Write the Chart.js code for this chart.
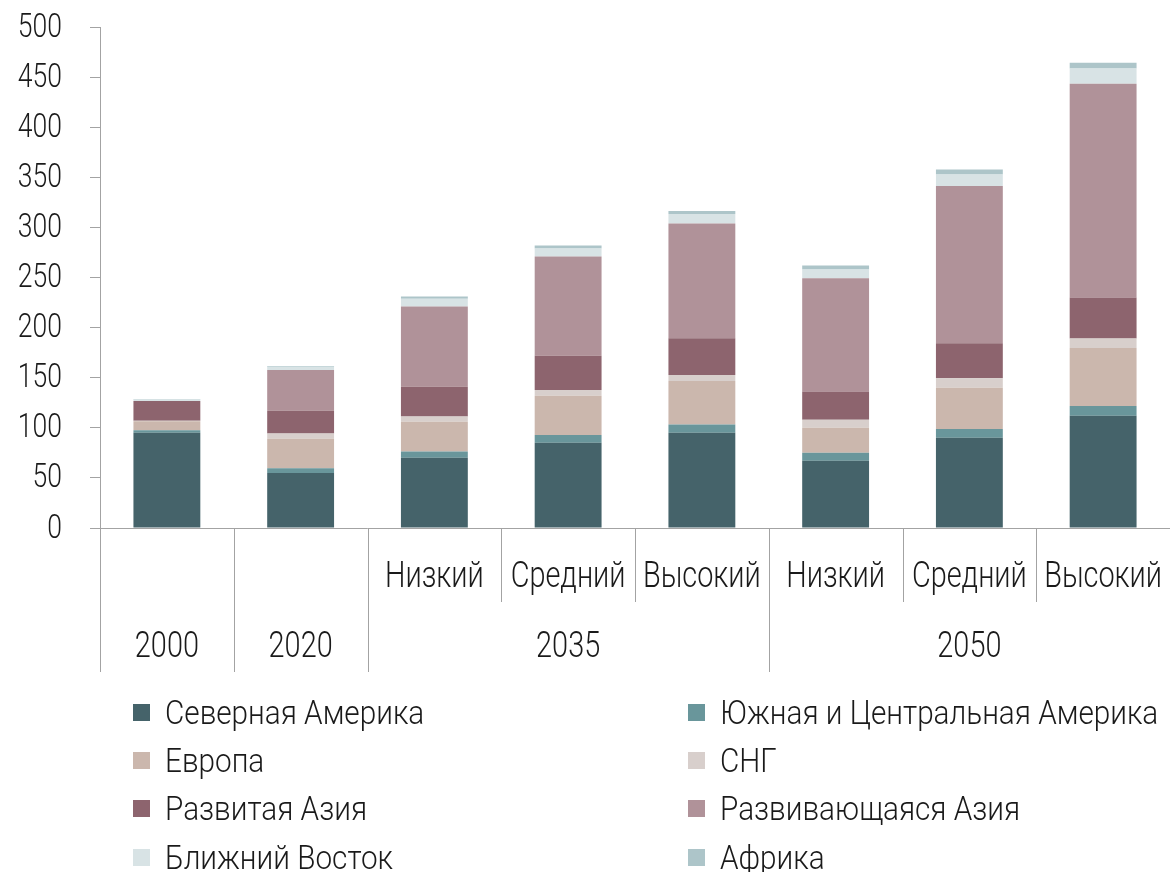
<!DOCTYPE html>
<html>
<head>
<meta charset="utf-8">
<script src="https://cdn.jsdelivr.net/npm/chart.js@4"></script>
<style>
  html, body { margin: 0; padding: 0; background: #fff; }
  #wrap { position: relative; width: 1170px; height: 872px; }
  #chart { position: absolute; left: 0; top: 0; }
  .legend { position: absolute; left: 0; top: 0; width: 1170px; height: 872px; pointer-events: none;
    font-family: Roboto, sans-serif; font-weight: 300; font-size: 33px; color: #1a1a1a; }
  .legend-item { position: absolute; display: flex; align-items: center; white-space: nowrap; height: 40px; }
  .legend-swatch { width: 17px; height: 17px; margin-right: 15px; flex: none; }
  .legend-text { display: inline-block; transform: scaleX(0.9); transform-origin: left center; }
</style>
</head>
<body>
<div id="wrap">
  <canvas id="chart" width="1170" height="872"></canvas>
  <div class="legend" id="legend"></div>
</div>
<script>
const TICK_FONT = "300 34px Roboto, sans-serif";
const CAT_FONT = "300 37px Roboto, sans-serif";
const SQUEEZE = 0.78;

const categories = ["2000", "2020", "2035 Низкий", "2035 Средний", "2035 Высокий", "2050 Низкий", "2050 Средний", "2050 Высокий"];
const scenarioLabels = ["", "", "Низкий", "Средний", "Высокий", "Низкий", "Средний", "Высокий"];
const yearGroups = [
  { label: "2000", first: 0, last: 0 },
  { label: "2020", first: 1, last: 1 },
  { label: "2035", first: 2, last: 4 },
  { label: "2050", first: 5, last: 7 },
];
const yTicks = [0, 50, 100, 150, 200, 250, 300, 350, 400, 450, 500];

const northAmerica   = [95, 55, 70, 85, 95, 67, 90, 112];
const southCentral   = [2.5, 4.7, 6.4, 7.7, 8.4, 8, 8.7, 9.7];
const europe         = [9, 29.3, 29.6, 39.3, 43.3, 25, 41.3, 58];
const cis            = [0.5, 5.4, 5.4, 5.7, 6, 8, 9.4, 9.3];
const developedAsia  = [19.7, 22.6, 29.6, 34.3, 36.7, 28.3, 35, 41];
const developingAsia = [0, 40.7, 80, 99, 114.6, 113, 157, 213.4];
const middleEast     = [1.5, 3.3, 7.7, 8, 9.3, 8.7, 11.3, 15.3];
const africa         = [0.5, 0.7, 2.3, 3, 3, 4, 5, 5.7];

const series = [
  { label: "Северная Америка", data: northAmerica, color: "#45636a" },
  { label: "Южная и Центральная Америка", data: southCentral, color: "#69969b" },
  { label: "Европа", data: europe, color: "#cbb7ad" },
  { label: "СНГ", data: cis, color: "#d8cfcc" },
  { label: "Развитая Азия", data: developedAsia, color: "#8d646e" },
  { label: "Развивающаяся Азия", data: developingAsia, color: "#b09299" },
  { label: "Ближний Восток", data: middleEast, color: "#d8e3e5" },
  { label: "Африка", data: africa, color: "#adc5c9" },
];

const AXIS_COLOR = "#a3a3a3";

// narrow text: the source uses a light condensed face, so squeeze Roboto Light
function narrowText(ctx, text, x, y, align) {
  ctx.save();
  ctx.translate(x, y);
  ctx.scale(SQUEEZE, 1);
  ctx.textAlign = align;
  ctx.fillText(text, 0, 0);
  ctx.restore();
}

const axisLabels = {
  id: "axisLabels",
  afterDraw(chart) {
    const x = chart.scales.x;
    const y = chart.scales.y;
    const area = chart.chartArea;
    const ctx = chart.ctx;
    const px = (i) => x.getPixelForValue(i);
    const boundary = (i) => (i === 0 ? area.left : (px(i - 1) + px(i)) / 2);
    const groupStarts = yearGroups.map((g) => g.first);

    ctx.save();
    ctx.strokeStyle = AXIS_COLOR;
    ctx.lineWidth = 1;
    for (let i = 0; i < categories.length; i++) {
      const bx = Math.round(boundary(i)) + 0.5;
      const bottom = groupStarts.includes(i) ? area.bottom + 144 : area.bottom + 74;
      ctx.beginPath();
      ctx.moveTo(bx, area.bottom);
      ctx.lineTo(bx, bottom);
      ctx.stroke();
    }

    ctx.fillStyle = "#1a1a1a";
    ctx.textBaseline = "middle";
    ctx.font = TICK_FONT;
    yTicks.forEach((v) => narrowText(ctx, String(v), 62, y.getPixelForValue(v) + 1, "right"));
    ctx.font = CAT_FONT;
    scenarioLabels.forEach((lab, i) => {
      if (lab) narrowText(ctx, lab, px(i), area.bottom + 50, "center");
    });
    yearGroups.forEach((g) => {
      const cx = (px(g.first) + px(g.last)) / 2;
      narrowText(ctx, g.label, cx, area.bottom + 120, "center");
    });
    ctx.restore();
  },
};

new Chart(document.getElementById("chart"), {
  type: "bar",
  data: {
    labels: categories,
    datasets: series.map((s) => ({
      label: s.label,
      data: s.data,
      backgroundColor: s.color,
      borderWidth: 0,
      barPercentage: 0.5,
      categoryPercentage: 1,
    })),
  },
  options: {
    responsive: false,
    animation: false,
    events: [],
    layout: { padding: { top: 27, right: 0, left: 0, bottom: 0 } },
    plugins: { legend: { display: false }, tooltip: { enabled: false } },
    scales: {
      x: {
        stacked: true,
        grid: { display: false },
        border: { color: AXIS_COLOR, width: 1 },
        ticks: { display: false },
        afterFit(scale) { scale.height = 344; },
      },
      y: {
        stacked: true,
        min: 0,
        max: 500,
        ticks: { stepSize: 50, display: false },
        grid: { drawOnChartArea: false, drawTicks: true, tickLength: 10, color: AXIS_COLOR },
        border: { color: AXIS_COLOR, width: 1 },
        afterFit(scale) { scale.width = 100; },
      },
    },
  },
  plugins: [axisLabels],
});

const legendEl = document.getElementById("legend");
const legendCols = [133, 688];
const legendRows = [712, 760, 808, 857];
series.forEach((s, i) => {
  const item = document.createElement("div");
  item.className = "legend-item";
  item.style.left = legendCols[i % 2] + "px";
  item.style.top = (legendRows[Math.floor(i / 2)] - 20) + "px";
  item.innerHTML = `<span class="legend-swatch" style="background:${s.color}"></span><span class="legend-text">${s.label}</span>`;
  legendEl.appendChild(item);
});
</script>
</body>
</html>
